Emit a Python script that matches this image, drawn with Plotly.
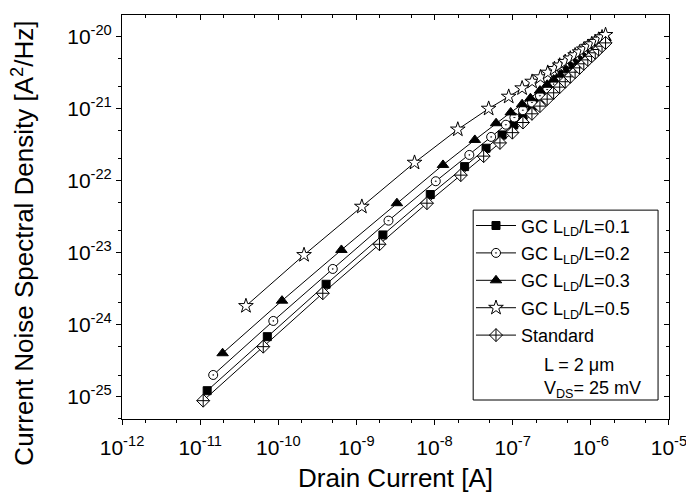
import plotly.graph_objects as go

FONT = "Liberation Sans, Arial, sans-serif"

# ---- data (drain current [A], noise PSD [A^2/Hz]) ----
ID_01 = [1.229e-11, 7.23e-11, 4.09e-10, 2.18e-9, 8.81e-9, 2.425e-8, 4.56e-8, 7.31e-8, 1.03e-7,
         1.351e-7, 1.763e-7, 2.232e-7, 2.761e-7, 3.345e-7, 3.994e-7, 4.70e-7, 5.46e-7, 6.29e-7,
         7.18e-7, 8.13e-7, 9.15e-7, 1.024e-6, 1.139e-6, 1.259e-6, 1.392e-6, 1.543e-6]
SI_01 = [1.211e-25, 6.81e-25, 3.64e-24, 1.761e-23, 6.41e-23, 1.565e-22, 2.818e-22, 4.31e-22, 5.94e-22,
         7.77e-22, 1.01e-21, 1.275e-21, 1.57e-21, 1.896e-21, 2.26e-21, 2.652e-21, 3.08e-21, 3.537e-21,
         4.03e-21, 4.57e-21, 5.13e-21, 5.73e-21, 6.37e-21, 7.03e-21, 7.77e-21, 8.58e-21]

ID_02 = [1.468e-11, 8.63e-11, 4.98e-10, 2.572e-9, 1.036e-8, 2.786e-8, 5.30e-8, 8.18e-8, 1.051e-7,
         1.351e-7, 1.763e-7, 2.232e-7, 2.761e-7, 3.345e-7, 3.994e-7, 4.70e-7, 5.46e-7, 6.29e-7,
         7.18e-7, 8.13e-7, 9.15e-7, 1.024e-6, 1.139e-6, 1.259e-6, 1.392e-6, 1.543e-6]
SI_02 = [2.002e-25, 1.126e-24, 5.94e-24, 2.783e-23, 9.81e-23, 2.275e-22, 4.045e-22, 5.976e-22, 7.52e-22,
         9.50e-22, 1.215e-21, 1.511e-21, 1.836e-21, 2.189e-21, 2.585e-21, 2.995e-21, 3.447e-21, 3.93e-21,
         4.44e-21, 4.98e-21, 5.55e-21, 6.15e-21, 6.79e-21, 7.45e-21, 8.18e-21, 9.00e-21]

ID_03 = [1.937e-11, 1.115e-10, 6.42e-10, 3.295e-9, 1.281e-8, 3.277e-8, 6.13e-8, 9.43e-8, 1.32e-7, 1.686e-7,
         2.232e-7, 2.761e-7, 3.345e-7, 3.994e-7, 4.70e-7, 5.46e-7, 6.29e-7, 7.18e-7, 8.13e-7, 9.15e-7,
         1.024e-6, 1.139e-6, 1.259e-6, 1.392e-6, 1.543e-6]
SI_03 = [4.01e-25, 2.154e-24, 1.09e-23, 4.86e-23, 1.652e-22, 3.675e-22, 6.27e-22, 8.85e-22, 1.151e-21, 1.394e-21,
         1.778e-21, 2.141e-21, 2.528e-21, 2.957e-21, 3.403e-21, 3.88e-21, 4.40e-21, 4.93e-21, 5.50e-21, 6.09e-21,
         6.71e-21, 7.36e-21, 8.05e-21, 8.77e-21, 9.59e-21]

ID_05 = [3.854e-11, 2.135e-10, 1.173e-9, 5.54e-9, 1.983e-8, 4.924e-8, 8.89e-8, 1.32e-7, 1.773e-7, 2.265e-7,
         2.81e-7, 3.424e-7, 3.994e-7, 4.70e-7, 5.46e-7, 6.29e-7, 7.18e-7, 8.13e-7, 9.15e-7, 1.024e-6,
         1.139e-6, 1.259e-6, 1.392e-6, 1.543e-6]
SI_05 = [1.818e-24, 9.29e-24, 4.355e-23, 1.778e-22, 5.14e-22, 1.0e-21, 1.468e-21, 1.920e-21, 2.371e-21, 2.73e-21,
         3.162e-21, 3.56e-21, 3.98e-21, 4.47e-21, 4.98e-21, 5.52e-21, 6.07e-21, 6.64e-21, 7.24e-21, 7.84e-21,
         8.47e-21, 9.11e-21, 9.81e-21, 1.056e-20]

ID_STD = [1.093e-11, 6.42e-11, 3.71e-10, 1.972e-9, 7.99e-9, 2.167e-8, 4.25e-8, 6.87e-8, 9.91e-8,
          1.351e-7, 1.763e-7, 2.232e-7, 2.761e-7, 3.345e-7, 3.994e-7, 4.70e-7, 5.46e-7, 6.29e-7,
          7.18e-7, 8.13e-7, 9.15e-7, 1.024e-6, 1.139e-6, 1.259e-6, 1.392e-6, 1.543e-6]
SI_STD = [8.80e-26, 4.95e-25, 2.73e-24, 1.308e-23, 4.86e-23, 1.192e-22, 2.19e-22, 3.34e-22, 4.64e-22,
          6.41e-22, 8.47e-22, 1.083e-21, 1.355e-21, 1.657e-21, 1.989e-21, 2.363e-21, 2.765e-21, 3.203e-21,
          3.68e-21, 4.19e-21, 4.75e-21, 5.33e-21, 5.96e-21, 6.62e-21, 7.36e-21, 8.18e-21]

NAMES = ["GC L<sub>LD</sub>/L=0.1", "GC L<sub>LD</sub>/L=0.2", "GC L<sub>LD</sub>/L=0.3",
         "GC L<sub>LD</sub>/L=0.5", "Standard"]
X_TICKS = [1e-12, 1e-11, 1e-10, 1e-9, 1e-8, 1e-7, 1e-6, 1e-5]
X_TICKTEXT = ["10<sup>-12</sup>", "10<sup>-11</sup>", "10<sup>-10</sup>", "10<sup>-9</sup>",
              "10<sup>-8</sup>", "10<sup>-7</sup>", "10<sup>-6</sup>", "10<sup>-5</sup>"]
Y_TICKS = [1e-25, 1e-24, 1e-23, 1e-22, 1e-21, 1e-20]
Y_TICKTEXT = ["10<sup>-25</sup>", "10<sup>-24</sup>", "10<sup>-23</sup>", "10<sup>-22</sup>",
              "10<sup>-21</sup>", "10<sup>-20</sup>"]
X_TITLE = "Drain Current [A]"
Y_TITLE = "Current Noise Spectral Density [A<sup>2</sup>/Hz]"
NOTE_L = "L = 2 μm"
NOTE_V = "V<sub>DS</sub>= 25 mV"

X_RANGE = [-12.0005, -4.9995]
Y_RANGE = [-25.31, -19.70]

styles = [("square", "black", 8), ("circle-dot", "white", 9), ("triangle-up", "black", 10),
          ("star", "white", 11), ("diamond-cross", "white", 10)]
data = [(ID_01, SI_01), (ID_02, SI_02), (ID_03, SI_03), (ID_05, SI_05), (ID_STD, SI_STD)]

fig = go.Figure()
for i, ((x, y), name, (sym, fill, size)) in enumerate(zip(data, NAMES, styles)):
    fig.add_trace(go.Scatter(
        x=x, y=y, name=name, mode="lines+markers", legendgroup=f"g{i}",
        line=dict(color="black", width=1),
        marker=dict(symbol=sym, color=fill, size=size, line=dict(color="black", width=1)),
    ))

# mirror axes (top / right) with inward ticks
fig.add_trace(go.Scatter(x=[None], y=[None], xaxis="x2", yaxis="y2", showlegend=False,
                         hoverinfo="skip"))

axis_common = dict(type="log", showgrid=False, zeroline=False, showline=True, automargin=False,
                   linecolor="black", linewidth=1, tickcolor="black", tickwidth=1)

fig.update_layout(
    width=686, height=493,
    margin=dict(l=122, r=17, t=15, b=74),
    paper_bgcolor="white", plot_bgcolor="white",
    font=dict(family=FONT, color="black"),
    showlegend=True,
    xaxis=dict(**axis_common, range=X_RANGE, tickvals=X_TICKS, ticktext=X_TICKTEXT,
               ticks="outside", ticklen=5, ticklabelstandoff=5, ticklabeloverflow="allow",
               minor=dict(ticks="outside", ticklen=3, tickcolor="black", tickwidth=1),
               tickfont=dict(size=21, family=FONT)),
    yaxis=dict(**axis_common, range=Y_RANGE, tickvals=Y_TICKS, ticktext=Y_TICKTEXT,
               ticks="outside", ticklen=5, ticklabeloverflow="allow",
               minor=dict(ticks="outside", ticklen=3, tickcolor="black", tickwidth=1),
               tickfont=dict(size=21, family=FONT)),
    xaxis2=dict(**axis_common, overlaying="x", side="top", anchor="y", range=X_RANGE,
                tickvals=X_TICKS, showticklabels=False, ticks="inside", ticklen=5,
                minor=dict(ticks="inside", ticklen=3, tickcolor="black", tickwidth=1)),
    yaxis2=dict(**axis_common, overlaying="y", side="right", anchor="x", range=Y_RANGE,
                tickvals=Y_TICKS, showticklabels=False, ticks="inside", ticklen=5,
                minor=dict(ticks="inside", ticklen=3, tickcolor="black", tickwidth=1)),
    legend=dict(x=0.638, y=0.524, xanchor="left", yanchor="top",
                bgcolor="rgba(0,0,0,0)", borderwidth=0,
                font=dict(size=18, family=FONT), itemwidth=40,
                tracegroupgap=1, traceorder="grouped"),
    shapes=[dict(type="rect", xref="paper", yref="paper", x0=0.642, x1=0.980, y0=0.047, y1=0.517,
                 line=dict(color="black", width=1), fillcolor="rgba(0,0,0,0)")],
    annotations=[
        dict(text=Y_TITLE, xref="paper", yref="paper",
             x=-0.1817, y=0.4356, textangle=-90, showarrow=False,
             font=dict(size=26, family=FONT), xanchor="center", yanchor="middle"),
        dict(text=X_TITLE, xref="paper", yref="paper", x=0.5, y=-0.146, showarrow=False,
             font=dict(size=26, family=FONT), xanchor="center", yanchor="middle"),
        dict(text=NOTE_L, xref="paper", yref="paper", x=0.7676, y=0.1337, showarrow=False,
             xanchor="left", yanchor="middle", font=dict(size=18, family=FONT)),
        dict(text=NOTE_V, xref="paper", yref="paper", x=0.7676, y=0.0718, showarrow=False,
             xanchor="left", yanchor="middle", font=dict(size=18, family=FONT)),
    ],
)

fig.write_html("out.html")
